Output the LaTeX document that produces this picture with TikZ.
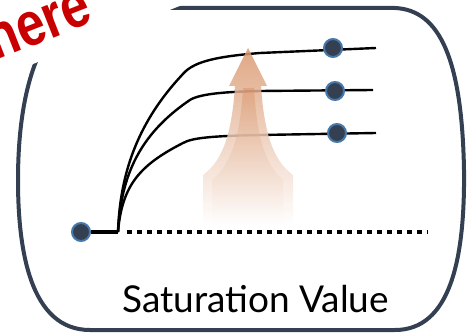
\documentclass[tikz,border=0pt]{standalone}
\usepackage{fontspec}
\setmainfont{Lato}
\newfontfamily\redfont[FakeStretch=0.82]{Liberation Sans}
\usetikzlibrary{calc}
\definecolor{navy}{RGB}{52,63,82}
\definecolor{dotblue}{RGB}{70,120,170}
\definecolor{stampred}{RGB}{200,0,0}
\definecolor{arrowc}{RGB}{214,140,95}
\begin{document}
\begin{tikzpicture}[x=1pt,y=-1pt,
  frame/.style={draw=navy,line width=4pt},
  curve/.style={draw=black,line width=2.4pt},
  dot/.style={circle,fill=navy,draw=dotblue,line width=2pt,minimum size=18pt,inner sep=0pt},
  label/.style={anchor=base west,font=\fontsize{37}{37}\selectfont,text=black,inner sep=0pt}]
\useasboundingbox (0,0) rectangle (473,336);
\begin{scope}
\clip (0,0) rectangle (473,336);
% frame
\draw[frame] (80,8) -- (395,8) .. controls (440,10) and (462,60) .. (464,170)
  .. controls (465,260) and (450,330) .. (395,330) -- (90,330)
  .. controls (30,330) and (18,250) .. (18,180)
  .. controls (18,100) and (35,30) .. cycle;
% white patch behind stamp text
\fill[white] (-10,81) -- (210,-6) -- (210,-60) -- (-10,-60) -- cycle;
\node[anchor=base west,rotate=21.5,inner sep=0pt,text=stampred,
  font=\redfont\bfseries\fontsize{62}{62}\selectfont] (stamp) at (-5,61) {here};
\end{scope}
% coordinates
\coordinate (k) at (118,232);
\coordinate (e1) at (376,48);
\coordinate (e2) at (373,90);
\coordinate (e3) at (376,133);
\coordinate (ds) at (127,232);
\coordinate (de) at (428,232);
% curves
\draw[curve] (k) .. controls (120,170) and (140,120) .. (182,75)
  .. controls (192,63) and (210,57) .. (260,53) -- (e1);
\draw[curve] (k) .. controls (121,175) and (140,135) .. (187,102)
  .. controls (195,95) and (215,92) .. (260,91) -- (e2);
\draw[curve] (k) .. controls (122,185) and (140,165) .. (183,143)
  .. controls (192,138) and (210,136) .. (260,135) -- (e3);
% baseline
\draw[line width=4.5pt,dash pattern=on 4.5pt off 5.5pt] (ds) -- (de);
% arrow
\shade[top color=arrowc!90,bottom color=white,opacity=0.85]
  (248,48) -- (267,86) -- (261,86) .. controls (264,130) and (272,160) .. (293,175)
  -- (293,225) -- (203,225) -- (203,175) .. controls (224,160) and (232,130) .. (235,86)
  -- (229,86) -- cycle;
\shade[top color=arrowc,bottom color=white,opacity=0.45]
  (243,88) .. controls (240,140) and (230,165) .. (212,180) -- (212,225)
  -- (283,225) -- (283,180) .. controls (266,165) and (257,140) .. (254,88) -- cycle;
% dots
\node[dot] (s) at (81,232) {};
\draw[line width=4.5pt] (s) -- (k);
\node[dot] (d1) at (333,48) {};
\node[dot] (d2) at (335,91) {};
\node[dot] (d3) at (337,133) {};
% label
\node[label] (lab) at (122,312) {Saturation Value};
\end{tikzpicture}
\end{document}
